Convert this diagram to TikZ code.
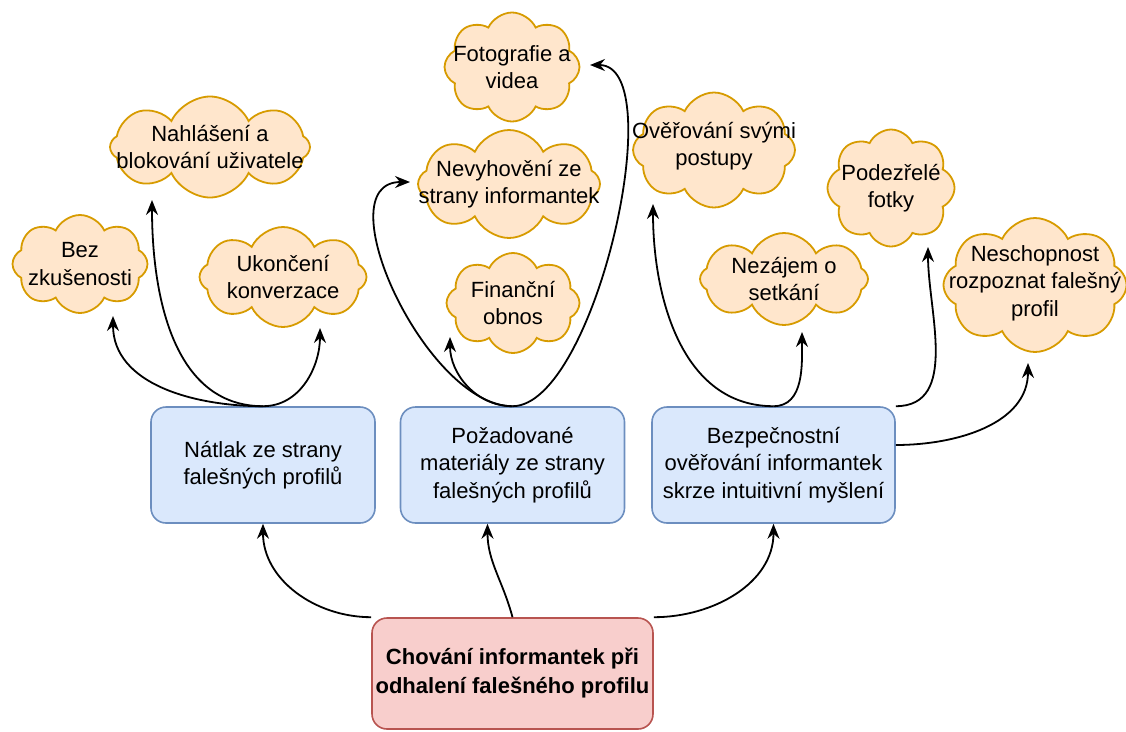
\documentclass[tikz,border=0pt]{standalone}
\usepackage{fontspec}
\setmainfont{Liberation Sans}
\usetikzlibrary{shapes.symbols,arrows.meta}

\definecolor{boxfill}{HTML}{DAE8FC}
\definecolor{boxline}{HTML}{6C8EBF}
\definecolor{rootfill}{HTML}{F8CECC}
\definecolor{rootline}{HTML}{B85450}
\definecolor{puffill}{HTML}{FFE6CC}
\definecolor{puffline}{HTML}{D79B00}

\begin{document}
\begin{tikzpicture}[x=1pt, y=-1pt,
    font=\fontsize{22}{27.5}\selectfont,
    box/.style={draw=boxline, fill=boxfill, line width=1.6pt, rounded corners=15pt,
                minimum width=224pt, minimum height=116pt, align=center},
    root/.style={draw=rootline, fill=rootfill, line width=1.6pt, rounded corners=15pt,
                minimum width=281pt, minimum height=111pt, align=center, font=\fontsize{22}{29}\selectfont\bfseries},
    bubble/.style={cloud, cloud puffs=8, cloud puff arc=130, cloud ignores aspect,
                draw=puffline, fill=puffill, line width=1.8pt, inner sep=0pt},
    label text/.style={align=center},
    flow/.style={line width=1.8pt, -{Stealth[length=15pt,width=12pt,inset=5pt]}}]
    \useasboundingbox (0,0) rectangle (1126,731);

    % boxes
    \node[box] (P1) at (263,465) {Nátlak ze strany\\falešných profilů};
    \node[box] (P2) at (512.5,465) {Požadované\\materiály ze strany\\falešných profilů};
    \node[box, minimum width=243pt] (P3) at (773.5,465) {Bezpečnostní\\ověřování informantek\\skrze intuitivní myšlení};
    \node[root] (R) at (512.5,673.5) {Chování informantek při\\odhalení falešného profilu};

    % clouds
    \node[bubble, minimum width=135pt, minimum height=98pt]  (C1)  at (80,264)   {};
    \node[bubble, minimum width=200pt, minimum height=101pt] (C2)  at (210,147)  {};
    \node[bubble, minimum width=167pt, minimum height=100pt] (C3)  at (283,277)  {};
    \node[bubble, minimum width=135pt, minimum height=109pt] (C4)  at (512,67)   {};
    \node[bubble, minimum width=182pt, minimum height=108pt] (C5)  at (509,184)  {};
    \node[bubble, minimum width=133pt, minimum height=100pt] (C6)  at (513,303)  {};
    \node[bubble, minimum width=162pt, minimum height=115pt] (C7)  at (714,150)  {};
    \node[bubble, minimum width=168pt, minimum height=92pt]  (C8)  at (784,279)  {};
    \node[bubble, minimum width=127pt, minimum height=117pt] (C9)  at (891,188)  {};
    \node[bubble, minimum width=183pt, minimum height=134pt] (C10) at (1035,285) {};

    \node[label text] (T1)  at (C1)  {Bez\\zkušenosti};
    \node[label text] (T2)  at (C2)  {Nahlášení a\\blokování uživatele};
    \node[label text] (T3)  at (C3)  {Ukončení\\konverzace};
    \node[label text] (T4)  at (C4)  {Fotografie a\\videa};
    \node[label text] (T5)  at (C5)  {Nevyhovění ze\\strany informantek};
    \node[label text] (T6)  at (C6)  {Finanční\\obnos};
    \node[label text] (T7)  at ([yshift=4pt]C7)  {Ověřování svými\\postupy};
    \node[label text] (T8)  at (C8)  {Nezájem o\\setkání};
    \node[label text] (T9)  at (C9)  {Podezřelé\\fotky};
    \node[label text] (T10) at ([yshift=2pt]C10) {Neschopnost\\rozpoznat falešný\\profil};

    % from the root
    \draw[flow] (R.north west) to[out=180, in=-90] (P1.south);
    \draw[flow] (R.north) to[out=105, in=-90] ([xshift=-25pt]P2.south);
    \draw[flow] (R.north east) to[out=0, in=-90] (P3.south);

    % first box
    \draw[flow] (P1.north) to[out=180, in=-90] ([shift={(33,52)}]C1.center);
    \draw[flow] (P1.north) to[out=180, in=-90] ([shift={(-58,53)}]C2.center);
    \draw[flow] (P1.north) to[out=0, in=-90] ([shift={(37,51)}]C3.center);

    % second box
    \draw[flow] (P2.north) to[out=0, in=0, looseness=0.6] ([shift={(78,-2)}]C4.center);
    \draw[flow] (P2.north) to[out=180, in=180, looseness=0.9] ([shift={(-99,-2)}]C5.center);
    \draw[flow] (P2.north) to[out=180, in=-90] ([shift={(-63,34)}]C6.center);

    % third box
    \draw[flow] (P3.north) to[out=180, in=-90] ([shift={(-61,54)}]C7.center);
    \draw[flow] (P3.north) to[out=0, in=-90] ([shift={(18,53)}]C8.center);
    \draw[flow] (P3.north east) to[out=0, in=-90] ([shift={(37,59)}]C9.center);
    \draw[flow] ([yshift=20pt]P3.east) to[out=0, in=-90] ([shift={(-7,78)}]C10.center);
\end{tikzpicture}
\end{document}
